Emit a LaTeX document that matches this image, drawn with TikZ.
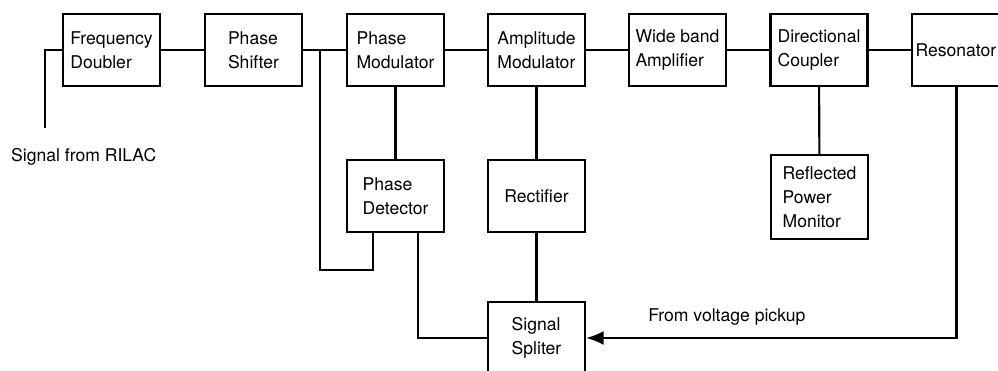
\documentclass[tikz,border=0pt]{standalone}
\usepackage{fontspec}
\setmainfont{TeX Gyre Heros}
\usetikzlibrary{positioning}
\usetikzlibrary{calc}
\usetikzlibrary{arrows.meta}

\tikzset{
  block/.style={draw, line width=1.3pt, minimum width=1.94cm, minimum height=1.44cm,
    align=left, font=\fontsize{10}{13.5}\selectfont},
  wire/.style={line width=1.2pt}
}

\begin{document}
\begin{tikzpicture}[x=0.02cm, y=-0.02cm]
        \useasboundingbox (0,0) rectangle (998,371);
        \clip (0,0) rectangle (998,371);
        % main chain
        \node[block] (fd)  at (111.5,50) {Frequency\\Doubler};
        \node[block] (ps)  at (253.5,50) {Phase\\Shifter};
        \node[block] (pm)  at (395.5,50) {Phase\\Modulator};
        \node[block] (am)  at (536.5,50) {Amplitude\\Modulator};
        \node[block] (wba) at (677.5,50) {Wide band\\Amplifier};
        \node[block] (dc)  at (819,50)   {Directional\\Coupler};
        \node[block, inner xsep=2pt, text width=1.8cm] (res) at (960.5,50) {Resonator};
        % lower row
        \node[block] (pd)   at (395.5,196) {Phase\\Detector};
        \node[block] (rect) at (536.5,196) {Rectifier};
        \node[block, minimum height=1.68cm] (rpm) at (819.5,197) {Reflected\\Power\\Monitor};
        \node[block] (ss)   at (536.5,338) {Signal\\Spliter};
        % input
        \coordinate (sig) at (45,128);
        \node[anchor=west, font=\fontsize{10}{12}\selectfont] (siglabel) at (5,157) {Signal from RILAC};
        \draw[wire] (sig) |- (fd.west);
        \draw[wire] (fd) -- (ps);
        \draw[wire] (ps) -- (pm);
        \draw[wire] (pm) -- (am);
        \draw[wire] (am) -- (wba);
        \draw[wire] (wba) -- (dc);
        \draw[wire] (dc) -- (res);
        % feedback loop
        \coordinate (tap) at (320,50);
        \coordinate (loop) at ($(pd.south)+(-22.5,37)$);
        \draw[wire] (tap) |- (loop) -- (loop |- pd.south);
        \draw[wire] (pm) -- (pd);
        \draw[wire] (am) -- (rect);
        \draw[wire] (rect) -- (ss);
        \draw[wire] (dc) -- (rpm);
        \draw[wire] ($(pd.south)+(22.5,0)$) |- (ss.west);
        \draw[wire, -{Latex[length=10pt, width=8pt]}] ($(res.south)+(-4,0)$) |-
            node[pos=0.81, above=3pt, font=\fontsize{10}{12}\selectfont] {From voltage pickup} (ss.east);
    \end{tikzpicture}
\end{document}
